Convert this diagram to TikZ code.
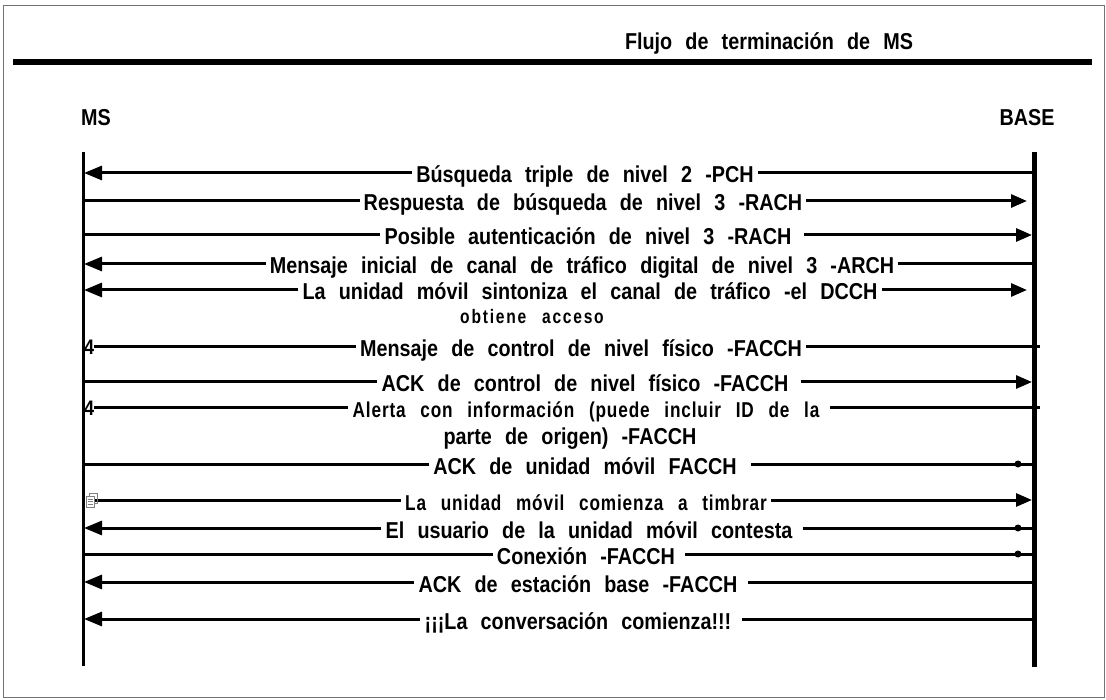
\documentclass[tikz,border=0pt]{standalone}
\usepackage{fontspec}
\setmainfont{Liberation Sans}
\newfontfamily\lblfont{Liberation Sans}[FakeStretch=0.86, WordSpace=2.4]
\newfontfamily\thinfont{Liberation Sans}[FakeStretch=0.80, WordSpace=2.6, LetterSpace=4]
\newfontfamily\widefont{Liberation Sans}[FakeStretch=0.80, WordSpace=2.6, LetterSpace=9]
\usetikzlibrary{arrows.meta}
\tikzset{
  msg/.style={line width=3pt},
  larr/.style={msg,-{Triangle[length=18pt,width=14pt]}},
  rarr/.style={msg,-{Triangle[length=16pt,width=13pt]}},
  lbl/.style={font=\lblfont\bfseries\fontsize{23}{25}\selectfont, inner xsep=4pt, inner ysep=0pt, anchor=base},
  thinlbl/.style={font=\thinfont\bfseries\fontsize{21.5}{24}\selectfont, inner xsep=4pt, inner ysep=0pt, anchor=base},
  widelbl/.style={font=\widefont\bfseries\fontsize{19.5}{22}\selectfont, inner xsep=4pt, inner ysep=0pt, anchor=base},
  head/.style={font=\lblfont\bfseries\fontsize{23}{25}\selectfont, inner sep=0pt},
  lifeline/.style={line width=3pt},
  fourmark/.style={font=\lblfont\bfseries\fontsize{21}{22}\selectfont, inner sep=0pt, anchor=west},
  dotend/.style={fill=black}
}
\begin{document}
\begin{tikzpicture}[x=1pt,y=-1pt]
\useasboundingbox (0,0) rectangle (1106,700);
% frame
\draw[black!55, line width=0.8pt] (3,5) rectangle (1104,697);
\draw[line width=6pt] (13,62) -- (1092,62);
\node[head] (title) at (769,43) {Flujo de terminación de MS};
\node[head] (msl) at (96,118) {MS};
\node[head] (basel) at (1027,118) {BASE};
% lifelines
\coordinate (msT) at (83,152); \coordinate (msB) at (83,666);
\coordinate (bsT) at (1034,152); \coordinate (bsB) at (1034,667);
\draw[lifeline] (msT) -- (msB);
\draw[line width=5pt] (bsT) -- (bsB);

% row 1
\coordinate (m1) at (84,173); \coordinate (b1) at (1034,173);
\node[lbl] (t1) at (585,183) {Búsqueda triple de nivel 2 -PCH};
\draw[msg] (t1.east |- b1) -- (b1);
\draw[larr] (t1.west |- m1) -- (m1);
% row 2
\coordinate (m2) at (83,201); \coordinate (b2) at (1027,201);
\node[lbl] (t2) at (583,211) {Respuesta de búsqueda de nivel 3 -RACH};
\draw[msg] (m2) -- (t2.west |- m2);
\draw[rarr] (t2.east |- b2) -- (b2);
% row 3
\coordinate (m3) at (83,235); \coordinate (b3) at (1032,235);
\node[lbl] (t3) at (588,245) {Posible autenticación de nivel 3 -RACH};
\draw[msg] (m3) -- (t3.west |- m3);
\draw[rarr] ([xshift=8pt]t3.east |- b3) -- (b3);
% row 4
\coordinate (m4) at (84,264); \coordinate (b4) at (1034,264);
\node[lbl] (t4) at (582,274) {Mensaje inicial de canal de tráfico digital de nivel 3 -ARCH};
\draw[msg] (t4.east |- b4) -- (b4);
\draw[larr] (t4.west |- m4) -- (m4);
% row 5
\coordinate (m5) at (84,290); \coordinate (b5) at (1027,290);
\node[lbl] (t5) at (590,300) {La unidad móvil sintoniza el canal de tráfico -el DCCH};
\draw[rarr] (t5.east |- b5) -- (b5);
\draw[larr] (t5.west |- m5) -- (m5);
% row 6 (text only)
\node[widelbl] (t6) at (532,324) {obtiene acceso};
% row 7
\coordinate (m7) at (83,347); \coordinate (b7) at (1040,347);
\node[fourmark] (f7) at (84,347) {4};
\node[lbl] (t7) at (581,357) {Mensaje de control de nivel físico -FACCH};
\draw[msg] (t7.east |- b7) -- (b7);
\draw[msg] (f7.east |- m7) -- (t7.west |- m7);
% row 8
\coordinate (m8) at (83,382); \coordinate (b8) at (1032,382);
\node[lbl] (t8) at (585,392) {ACK de control de nivel físico -FACCH};
\draw[msg] (m8) -- (t8.west |- m8);
\draw[rarr] ([xshift=8pt]t8.east |- b8) -- (b8);
% row 9
\coordinate (m9) at (83,408); \coordinate (b9) at (1040,408);
\node[fourmark] (f9) at (84,408) {4};
\node[thinlbl] (t9) at (586,418) {Alerta con información (puede incluir ID de la};
\draw[msg] ([xshift=6pt]t9.east |- b9) -- (b9);
\draw[msg] (f9.east |- m9) -- (t9.west |- m9);
% row 10 (text only)
\node[lbl] (t10) at (570,445) {parte de origen) -FACCH};
% row 11
\coordinate (m11) at (83,464); \coordinate (b11) at (1034,464);
\node[lbl] (t11) at (585,474) {ACK de unidad móvil FACCH};
\draw[msg] (m11) -- (t11.west |- m11);
\draw[msg] ([xshift=10pt]t11.east |- b11) -- (b11);
\fill[dotend] (1018,464) circle (3.5pt);
% row 12
\coordinate (m12) at (90,500); \coordinate (b12) at (1032,500);
\node[thinlbl] (t12) at (586,510) {La unidad móvil comienza a timbrar};
\draw[msg] (m12) -- (t12.west |- m12);
\draw[rarr] (t12.east |- b12) -- (b12);
\begin{scope}[black!50, line width=0.8pt]
  \draw (89,493) rectangle (97,503);
  \draw[fill=white] (86,496) rectangle (94,507);
  \draw (87.5,499) -- (92.5,499) (87.5,501.5) -- (92.5,501.5) (87.5,504) -- (92.5,504);
\end{scope}
% row 13
\coordinate (m13) at (84,528); \coordinate (b13) at (1034,528);
\node[lbl] (t13) at (589,538) {El usuario de la unidad móvil contesta};
\draw[msg] ([xshift=6pt]t13.east |- b13) -- (b13);
\draw[larr] (t13.west |- m13) -- (m13);
\fill[dotend] (1018,528) circle (3.5pt);
% row 14
\coordinate (m14) at (83,554); \coordinate (b14) at (1034,554);
\node[lbl] (t14) at (586,564) {Conexión -FACCH};
\draw[msg] (m14) -- (t14.west |- m14);
\draw[msg] ([xshift=6pt]t14.east |- b14) -- (b14);
\fill[dotend] (1018,554) circle (3.5pt);
% row 15
\coordinate (m15) at (84,582); \coordinate (b15) at (1034,582);
\node[lbl] (t15) at (578,592) {ACK de estación base -FACCH};
\draw[msg] ([xshift=6pt]t15.east |- b15) -- (b15);
\draw[larr] (t15.west |- m15) -- (m15);
% row 16
\coordinate (m16) at (84,619); \coordinate (b16) at (1034,619);
\node[lbl] (t16) at (578,629) {¡¡¡La conversación comienza!!!};
\draw[msg] ([xshift=6pt]t16.east |- b16) -- (b16);
\draw[larr] (t16.west |- m16) -- (m16);
\end{tikzpicture}
\end{document}
